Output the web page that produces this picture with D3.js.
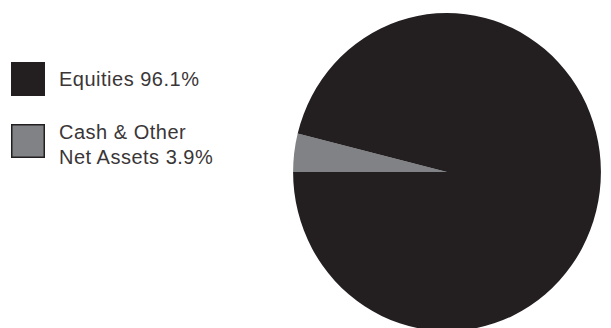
<!DOCTYPE html>
<html>
<head>
<meta charset="utf-8">
<script src="https://cdn.jsdelivr.net/npm/d3@7"></script>
<style>
  body { margin: 0; background: #fff; }
</style>
</head>
<body>
<div id="chart"></div>
<script>
var w = 611, h = 328;

// data
var categories = ["Cash & Other Net Assets", "Equities"];
var values = [3.9, 96.1];
var legendLines = [["Equities 96.1%"], ["Cash & Other", "Net Assets 3.9%"]];
var legendColors = ["#231f20", "#808285"];
var colors = ["#808285", "#231f20"];

var svg = d3.select("#chart").append("svg")
    .attr("width", w)
    .attr("height", h);

var r = 159;
var pie = d3.pie()
    .sort(null)
    .value(function(d) { return d; })
    .startAngle(Math.PI * 1.5)
    .endAngle(Math.PI * 3.5);

var arc = d3.arc().innerRadius(0).outerRadius(r);

var chart = svg.append("g")
    .attr("transform", "translate(447,172) scale(0.968,1)");

chart.selectAll("path.slice")
    .data(pie(values))
    .enter().append("path")
    .attr("class", "slice")
    .attr("d", arc)
    .attr("fill", function(d, i) { return colors[i]; });

// legend
var legend = svg.selectAll("g.legend")
    .data(legendLines)
    .enter().append("g")
    .attr("class", "legend")
    .attr("transform", function(d, i) {
        return "translate(11," + (62 + i * 62) + ")";
    });

legend.append("rect")
    .attr("x", 0.75)
    .attr("y", 0.75)
    .attr("width", 32.5)
    .attr("height", 32.5)
    .attr("fill", function(d, i) { return legendColors[i]; })
    .attr("stroke", "#231f20")
    .attr("stroke-width", 1.5);

legend.append("text")
    .attr("x", 48)
    .attr("y", function(d, i) { return i == 0 ? 24 : 15; })
    .attr("font-family", "Liberation Sans, Arial, sans-serif")
    .attr("font-size", "20px")
    .attr("letter-spacing", "0.5px")
    .attr("fill", "#3a3637")
    .selectAll("tspan")
    .data(function(d) { return d; })
    .enter().append("tspan")
    .attr("x", 48)
    .attr("dy", function(d, i) { return i == 0 ? 0 : 25; })
    .text(function(d) { return d; });
</script>
</body>
</html>
